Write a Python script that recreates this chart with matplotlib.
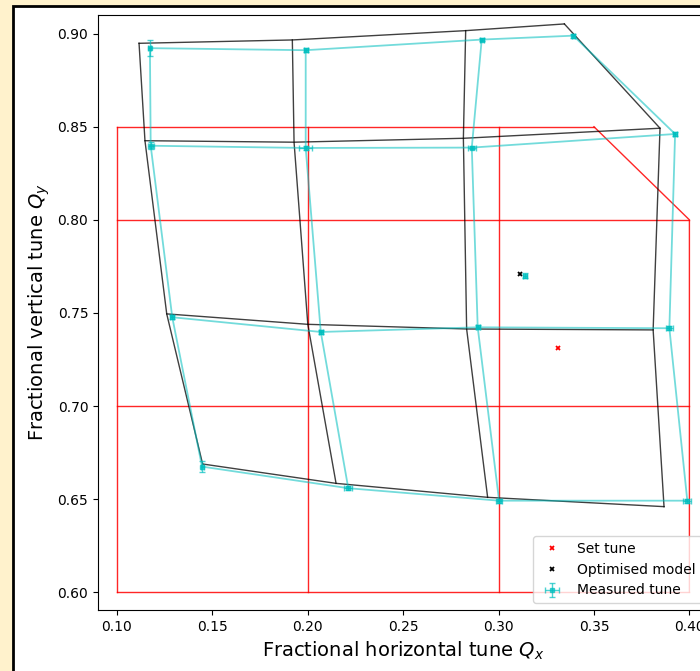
import numpy as np
import matplotlib
matplotlib.use('Agg')
import matplotlib.pyplot as plt
from matplotlib.patches import Rectangle

# set tune grid (rows top to bottom)
set_qx = [[0.10, 0.20, 0.30, 0.35],
          [0.10, 0.20, 0.30, 0.40],
          [0.10, 0.20, 0.30, 0.40],
          [0.10, 0.20, 0.30, 0.40]]
set_qy = [[0.85, 0.85, 0.85, 0.85],
          [0.80, 0.80, 0.80, 0.80],
          [0.70, 0.70, 0.70, 0.70],
          [0.60, 0.60, 0.60, 0.60]]

# optimised model grid
model_qx = [[0.1117, 0.1920, 0.2828, 0.3345],
            [0.1148, 0.1929, 0.2816, 0.3846],
            [0.1262, 0.2001, 0.2833, 0.3810],
            [0.1450, 0.2149, 0.2943, 0.3867]]
model_qy = [[0.8948, 0.8966, 0.9016, 0.9052],
            [0.8425, 0.8417, 0.8438, 0.8492],
            [0.7495, 0.7439, 0.7414, 0.7409],
            [0.6689, 0.6585, 0.6510, 0.6460]]

# measured tunes
meas_qx = [[0.1174, 0.1990, 0.2912, 0.3392],
           [0.1178, 0.1990, 0.2860, 0.3925],
           [0.1291, 0.2069, 0.2891, 0.3895],
           [0.1447, 0.2213, 0.3003, 0.3989]]
meas_qy = [[0.8922, 0.8911, 0.8968, 0.8989],
           [0.8398, 0.8386, 0.8388, 0.8461],
           [0.7477, 0.7398, 0.7423, 0.7418],
           [0.6675, 0.6559, 0.6492, 0.6492]]
meas_xerr = [[0.0008, 0.0010, 0.0010, 0.0008],
             [0.0015, 0.0035, 0.0020, 0.0010],
             [0.0010, 0.0010, 0.0010, 0.0020],
             [0.0008, 0.0020, 0.0015, 0.0020]]
meas_yerr = [[0.0043, 0.0010, 0.0010, 0.0010],
             [0.0020, 0.0010, 0.0010, 0.0010],
             [0.0010, 0.0010, 0.0010, 0.0010],
             [0.0030, 0.0010, 0.0010, 0.0010]]

# new working point
set_pt = (0.3313, 0.7310)
model_pt = (0.3112, 0.7709)
meas_pt = (0.3139, 0.7700)
meas_pt_err = (0.0012, 0.0012)


def draw_grid(ax, qx, qy, **kw):
    qx = np.array(qx)
    qy = np.array(qy)
    for i in range(qx.shape[0]):
        ax.plot(qx[i, :], qy[i, :], **kw)
    for j in range(qx.shape[1]):
        ax.plot(qx[:, j], qy[:, j], **kw)


fig = plt.figure(figsize=(7, 6.71), dpi=100)
fig.patch.set_facecolor('#fff2cc')
# white panel with black border (screenshot frame)
fig.patches.append(Rectangle((13/700, -0.1), 1.0, (671-5.5)/671 + 0.1,
                             transform=fig.transFigure, facecolor='white',
                             edgecolor='black', linewidth=2, zorder=-5))

ax = fig.add_axes([98/700, 61/671, 610.5/700, 595/671])
ax.set_zorder(2)

draw_grid(ax, set_qx, set_qy, color='r', lw=1, alpha=0.85)
draw_grid(ax, model_qx, model_qy, color='k', lw=1.0, alpha=0.75)
draw_grid(ax, meas_qx, meas_qy, color='c', lw=1.3, alpha=0.55)

ax.errorbar(np.ravel(meas_qx), np.ravel(meas_qy),
            xerr=np.ravel(meas_xerr), yerr=np.ravel(meas_yerr),
            fmt='s', color='c', ms=2.5, capsize=2, alpha=0.7, lw=1)

ax.plot(set_pt[0], set_pt[1], 'rx', ms=2.5, mew=1.3, label='Set tune')
ax.plot(model_pt[0], model_pt[1], 'kx', ms=2.5, mew=1.3, label='Optimised model')
ax.errorbar(meas_pt[0], meas_pt[1], xerr=meas_pt_err[0], yerr=meas_pt_err[1],
            fmt='s', color='c', ms=2.5, capsize=2, alpha=0.7, lw=1,
            label='Measured tune')

ax.set_xlim(0.0902, 0.41)
ax.set_ylim(0.5905, 0.910)
ax.set_xticks([0.10, 0.15, 0.20, 0.25, 0.30, 0.35, 0.40])
ax.set_xticklabels(['0.10', '0.15', '0.20', '0.25', '0.30', '0.35', '0.40'])
ax.set_yticks([0.60, 0.65, 0.70, 0.75, 0.80, 0.85, 0.90])
ax.set_yticklabels(['0.60', '0.65', '0.70', '0.75', '0.80', '0.85', '0.90'])

ax.set_xlabel('Fractional horizontal tune $Q_x$', fontsize=14)
ax.set_ylabel('Fractional vertical tune $Q_y$', fontsize=14)
ax.legend(loc='lower right')

fig.savefig('out.png', dpi=100, facecolor=fig.get_facecolor())
